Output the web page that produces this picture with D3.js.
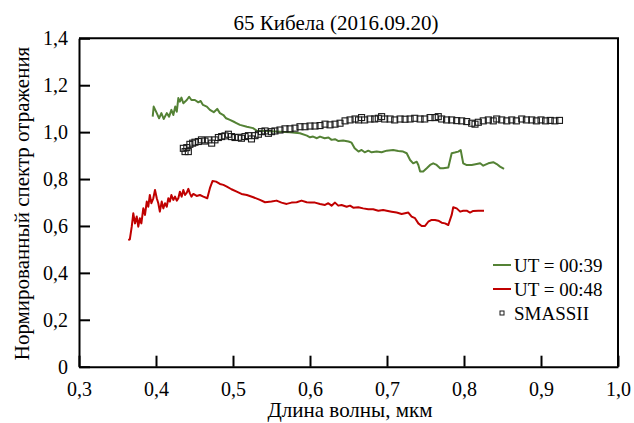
<!DOCTYPE html>
<html>
<head>
<meta charset="utf-8">
<script src="https://cdn.jsdelivr.net/npm/d3@7"></script>
<style>
  html, body { margin: 0; padding: 0; background: #fff; }
  svg { display: block; font-family: "Liberation Serif", "Times New Roman", serif; }
</style>
</head>
<body>
<svg id="chart" width="634" height="423"></svg>
<script>
// Spectrum UT = 00:39, [wavelength (мкм), normalized reflectance]
const spectrum0039 = [
  [0.3957,1.066],[0.397,1.109],[0.401,1.081],[0.404,1.059],[0.407,1.081],[0.410,1.056],
  [0.414,1.081],[0.417,1.066],[0.420,1.095],[0.4225,1.073],[0.425,1.109],[0.427,1.087],
  [0.429,1.145],[0.431,1.130],[0.433,1.147],[0.4355,1.123],[0.440,1.137],[0.443,1.151],
  [0.446,1.137],[0.4505,1.137],[0.455,1.127],[0.458,1.133],[0.461,1.116],[0.466,1.109],
  [0.470,1.095],[0.475,1.085],[0.4795,1.099],[0.483,1.081],[0.4875,1.073],[0.491,1.059],
  [0.496,1.052],[0.5025,1.042],[0.509,1.031],[0.518,1.023],[0.526,1.017],[0.531,1.006],
  [0.544,1.005],[0.561,1.002],[0.574,0.9995],[0.587,0.995],[0.596,0.985],[0.600,0.978],
  [0.604,0.981],[0.609,0.974],[0.613,0.981],[0.619,0.974],[0.624,0.977],[0.628,0.967],
  [0.6325,0.970],[0.637,0.962],[0.643,0.964],[0.650,0.960],[0.654,0.955],[0.658,0.931],
  [0.663,0.917],[0.667,0.924],[0.671,0.914],[0.6757,0.921],[0.680,0.914],[0.6866,0.917],
  [0.693,0.914],[0.6996,0.921],[0.708,0.924],[0.7147,0.920],[0.721,0.917],[0.7256,0.910],
  [0.730,0.881],[0.734,0.867],[0.7386,0.874],[0.7407,0.860],[0.743,0.832],[0.747,0.832],
  [0.7516,0.846],[0.756,0.860],[0.760,0.867],[0.7645,0.860],[0.769,0.846],[0.773,0.846],
  [0.7796,0.849],[0.784,0.910],[0.788,0.913],[0.7926,0.917],[0.7957,0.924],[0.799,0.867],
  [0.803,0.860],[0.810,0.860],[0.8165,0.864],[0.821,0.867],[0.825,0.857],[0.8316,0.867],
  [0.838,0.872],[0.8425,0.864],[0.8468,0.853],[0.852,0.843]
];

// Spectrum UT = 00:48
const spectrum0048 = [
  [0.364,0.540],[0.366,0.543],[0.3685,0.597],[0.3705,0.654],[0.3727,0.611],[0.375,0.640],
  [0.377,0.597],[0.379,0.633],[0.381,0.611],[0.3835,0.675],[0.3857,0.647],[0.388,0.704],
  [0.390,0.682],[0.392,0.732],[0.394,0.697],[0.3965,0.718],[0.3987,0.7535],[0.401,0.718],
  [0.403,0.697],[0.405,0.661],[0.4074,0.704],[0.4095,0.675],[0.4117,0.697],[0.414,0.682],
  [0.416,0.718],[0.418,0.704],[0.420,0.732],[0.4225,0.711],[0.4247,0.725],[0.427,0.708],
  [0.429,0.718],[0.431,0.746],[0.4333,0.725],[0.4355,0.7535],[0.4377,0.732],[0.440,0.742],
  [0.442,0.758],[0.444,0.739],[0.446,0.725],[0.4485,0.7365],[0.4528,0.728],[0.457,0.732],
  [0.4615,0.725],[0.4666,0.718],[0.470,0.761],[0.4735,0.792],[0.478,0.789],[0.483,0.779],
  [0.4875,0.775],[0.492,0.768],[0.498,0.7565],[0.5048,0.746],[0.511,0.7365],[0.518,0.732],
  [0.5264,0.7225],[0.535,0.711],[0.5416,0.701],[0.550,0.704],[0.5566,0.708],[0.563,0.6995],
  [0.5697,0.694],[0.576,0.6995],[0.5827,0.701],[0.589,0.708],[0.5957,0.701],[0.600,0.6995],
  [0.6065,0.6995],[0.613,0.694],[0.6195,0.6895],[0.6238,0.697],[0.628,0.6866],[0.6325,0.6995],
  [0.6367,0.6866],[0.641,0.6895],[0.6476,0.682],[0.652,0.6866],[0.6562,0.678],[0.6627,0.680],
  [0.669,0.675],[0.6757,0.671],[0.682,0.671],[0.6887,0.665],[0.695,0.668],[0.6996,0.665],
  [0.706,0.661],[0.7125,0.657],[0.719,0.651],[0.7234,0.654],[0.7277,0.657],[0.732,0.640],
  [0.7364,0.633],[0.7407,0.611],[0.745,0.600],[0.7494,0.600],[0.7536,0.618],[0.758,0.6255],
  [0.7623,0.6255],[0.7666,0.6225],[0.771,0.614],[0.7753,0.611],[0.7796,0.604],[0.784,0.647],
  [0.786,0.680],[0.7905,0.675],[0.795,0.661],[0.799,0.665],[0.8035,0.665],[0.8078,0.657],
  [0.812,0.664],[0.8186,0.665],[0.826,0.665]
];

// SMASSII reference spectrum
const smassii = [
  [0.4355,0.931],[0.4377,0.917],[0.440,0.934],[0.442,0.917],[0.444,0.948],[0.4476,0.953],
  [0.4506,0.957],[0.455,0.960],[0.459,0.967],[0.4636,0.962],[0.468,0.967],[0.4723,0.953],
  [0.4766,0.967],[0.481,0.977],[0.4853,0.981],[0.4896,0.984],[0.494,0.991],[0.498,0.981],
  [0.5026,0.977],[0.507,0.978],[0.511,0.974],[0.5156,0.981],[0.520,0.985],[0.524,0.971],
  [0.5286,0.985],[0.533,0.991],[0.537,1.002],[0.5416,1.005],[0.546,0.995],[0.550,1.002],
  [0.5545,1.005],[0.561,1.009],[0.5675,1.014],[0.574,1.014],[0.5805,1.017],[0.587,1.023],
  [0.5935,1.023],[0.600,1.026],[0.6065,1.026],[0.613,1.028],[0.6195,1.034],[0.626,1.031],
  [0.6325,1.034],[0.639,1.038],[0.6455,1.048],[0.652,1.052],[0.6585,1.056],[0.663,1.052],
  [0.667,1.062],[0.671,1.052],[0.678,1.056],[0.684,1.056],[0.6887,1.059],[0.693,1.066],
  [0.697,1.056],[0.704,1.056],[0.710,1.052],[0.717,1.056],[0.7234,1.055],[0.730,1.056],
  [0.736,1.059],[0.743,1.056],[0.749,1.056],[0.756,1.062],[0.7623,1.062],[0.7666,1.066],
  [0.771,1.056],[0.7774,1.052],[0.784,1.052],[0.7905,1.049],[0.797,1.048],[0.8035,1.045],
  [0.810,1.038],[0.8143,1.034],[0.8186,1.042],[0.825,1.048],[0.8316,1.052],[0.838,1.048],
  [0.8425,1.056],[0.849,1.052],[0.8555,1.048],[0.862,1.052],[0.868,1.048],[0.875,1.056],
  [0.881,1.052],[0.888,1.052],[0.894,1.048],[0.900,1.052],[0.906,1.048],[0.912,1.050],
  [0.918,1.048],[0.924,1.050]
];

const xTicks = [0.3, 0.4, 0.5, 0.6, 0.7, 0.8, 0.9, 1.0];
const yTicks = [0, 0.2, 0.4, 0.6, 0.8, 1.0, 1.2, 1.4];
const seriesNames = ["UT = 00:39", "UT = 00:48", "SMASSII"];
const titleText = "65 Кибела (2016.09.20)";
const xTitle = "Длина волны, мкм";
const yTitle = "Нормированный спектр отражения";

const GREEN = "#548235", RED = "#c00000", INK = "#000", MARK = "#1a1a1a";

const svg = d3.select("#chart");
const x = d3.scaleLinear().domain([0.3, 1.0]).range([79, 618]);
const y = d3.scaleLinear().domain([0, 1.4]).range([366.7, 38.3]);
const comma = d => d === 0 ? "0" : d.toFixed(1).replace(".", ",");

// Axes with inward ticks
const gx = svg.append("g").attr("transform", `translate(0,${y(0)})`)
  .call(d3.axisBottom(x).tickValues(xTicks).tickFormat(comma).tickSizeInner(-11).tickSizeOuter(0));
gx.selectAll("text").attr("y", 29.5).attr("dy", null);

const gy = svg.append("g").attr("transform", `translate(${x(0.3)},0)`)
  .call(d3.axisLeft(y).tickValues(yTicks).tickFormat(comma).tickSizeInner(-11).tickSizeOuter(0));
gy.selectAll("text").attr("x", -11);

[gx, gy].forEach(g => {
  g.selectAll("path.domain").attr("stroke", INK).attr("stroke-width", 2);
  g.selectAll(".tick line").attr("stroke", INK).attr("stroke-width", 2);
  g.selectAll("text").attr("fill", INK).style("font-size", "20px")
    .style("font-family", '"Liberation Serif", "Times New Roman", serif');
});

// Frame: top and right edges
svg.append("path")
  .attr("d", `M${x(0.3)},${y(1.4)}H${x(1.0)}V${y(0)}`)
  .attr("fill", "none").attr("stroke", INK).attr("stroke-width", 2);

// Spectra
const line = d3.line().x(d => x(d[0])).y(d => y(d[1]));
svg.append("path").datum(spectrum0039).attr("d", line)
  .attr("fill", "none").attr("stroke", GREEN).attr("stroke-width", 2).attr("stroke-linejoin", "round");
svg.append("path").datum(spectrum0048).attr("d", line)
  .attr("fill", "none").attr("stroke", RED).attr("stroke-width", 2).attr("stroke-linejoin", "round");

const sq = 6;
svg.append("g").selectAll("rect").data(smassii).join("rect")
  .attr("x", d => x(d[0]) - sq / 2).attr("y", d => y(d[1]) - sq / 2)
  .attr("width", sq).attr("height", sq)
  .attr("fill", "none").attr("stroke", MARK).attr("stroke-width", 1.1);

// Titles
svg.append("text").attr("x", 336).attr("y", 30).attr("text-anchor", "middle")
  .style("font-size", "21px").attr("fill", INK).text(titleText);
svg.append("text").attr("x", 350).attr("y", 417).attr("text-anchor", "middle")
  .style("font-size", "21px").attr("fill", INK).text(xTitle);
svg.append("text").attr("transform", `translate(29,${(y(0) + y(1.4)) / 2 + 1}) rotate(-90)`)
  .attr("text-anchor", "middle").style("font-size", "21px").attr("fill", INK).text(yTitle);

// Legend
const legend = svg.append("g");
const legendRows = [
  { name: seriesNames[0], color: GREEN, type: "line", cy: 265 },
  { name: seriesNames[1], color: RED, type: "line", cy: 289 },
  { name: seriesNames[2], color: MARK, type: "square", cy: 313 }
];
legendRows.forEach(r => {
  if (r.type === "line") {
    legend.append("line").attr("x1", 493).attr("x2", 511).attr("y1", r.cy).attr("y2", r.cy)
      .attr("stroke", r.color).attr("stroke-width", 2);
  } else {
    legend.append("rect").attr("x", 500).attr("y", r.cy - 2).attr("width", 4).attr("height", 4)
      .attr("fill", "none").attr("stroke", r.color).attr("stroke-width", 1);
  }
  legend.append("text").attr("x", 514).attr("y", r.cy + 7)
    .style("font-size", "19px").attr("fill", INK).text(r.name);
});
</script>
</body>
</html>
